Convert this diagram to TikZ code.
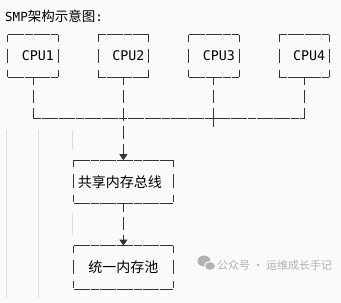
\documentclass[tikz,border=0pt]{standalone}
\usepackage{fontspec}
\setmainfont{Noto Sans CJK SC}
\newfontfamily\codefont{DejaVu Sans Mono}
\usetikzlibrary{positioning,arrows.meta}

\definecolor{bgcol}{RGB}{250,250,250}
\definecolor{linecol}{RGB}{50,50,50}
\definecolor{guidecol}{RGB}{222,222,222}
\definecolor{markcol}{RGB}{178,178,178}

\tikzset{
  cpubox/.style={minimum height=42pt, text width=42pt, inner xsep=4pt, inner ysep=0pt,
    align=right, font=\codefont\fontsize{13.3pt}{15pt}\selectfont},
  membox/.style={minimum height=43pt, text width=91pt, inner xsep=4pt, inner ysep=0pt,
    font=\fontsize{14pt}{16pt}\selectfont},
  hside/.style={draw=linecol, line width=1pt, dash pattern=on 8pt off 0.6pt},
  vside/.style={draw=linecol, line width=1pt, dash pattern=on 7pt off 7pt on 14pt off 7pt on 7pt},
  vlink/.style={draw=linecol, line width=1pt, dash pattern=on 13pt off 5pt, dash phase=5pt},
  guide/.style={draw=guidecol, line width=0.8pt},
  tip/.style={-{Triangle[width=8pt,length=6pt]}},
}

\begin{document}
\begin{tikzpicture}[x=1pt, y=-1pt, node distance=40pt]
\fill[bgcol] (0,0) rectangle (341,303);
\useasboundingbox (0,0) rectangle (341,303);

% indent guides
\draw[guide] (6,130) -- (6,298);
\draw[guide] (38,130) -- (38,298);
\draw[guide] (72,130) -- (72,150);
\draw[guide] (72,213) -- (72,235);

\node[anchor=west, inner sep=0pt] (title) at (5,16)
  {{\codefont\fontsize{12.5pt}{14pt}\selectfont SMP}{\fontsize{13.5pt}{15pt}\selectfont 架构示意图}{\codefont\fontsize{12.5pt}{14pt}\selectfont :}};

% processors
\node[cpubox] (cpu1) at (33,56) {CPU1};
\node[cpubox, right=of cpu1] (cpu2) {CPU2};
\node[cpubox, right=of cpu2] (cpu3) {CPU3};
\node[cpubox, right=of cpu3] (cpu4) {CPU4};

% memory side
\node[membox, align=left, below=83pt of cpu2] (bus) {共享内存总线};
\node[membox, align=center, below=42pt of bus] (pool) {统一内存池};

\foreach \n in {cpu1,cpu2,cpu3,cpu4,bus,pool}{
  \draw[hside] (\n.north west) -- (\n.north east);
  \draw[hside] (\n.south west) -- (\n.south east);
  \draw[vside] (\n.north west) -- (\n.south west);
  \draw[vside] (\n.north east) -- (\n.south east);
}

% bus line
\coordinate (busy) at (0,118.5);
\draw[vlink] (cpu1.south) -- (cpu1.south |- busy);
\draw[vlink] (cpu4.south) -- (cpu4.south |- busy);
\draw[vlink, dash pattern=on 8pt off 5pt on 13pt off 5pt on 19pt, dash phase=0pt]
  (cpu3.south) -- ([yshift=-9pt]cpu3.south |- busy);
\draw[hside] (cpu1.south |- busy) -- (cpu4.south |- busy);
\draw[vlink, tip] (cpu2.south) -- (bus.north);
\draw[vlink, tip] (bus.south) -- (pool.north);

% watermark
\fill[markcol] (204,261) ellipse (6.5 and 5.5);
\fill[markcol, draw=bgcol, line width=1pt] (210,266) ellipse (5.5 and 4.5);
\node[anchor=west, inner sep=0pt, text=markcol, font=\fontsize{11pt}{13pt}\selectfont]
  (mark) at (217,265) {公众号 · 运维成长手记};
\end{tikzpicture}
\end{document}
